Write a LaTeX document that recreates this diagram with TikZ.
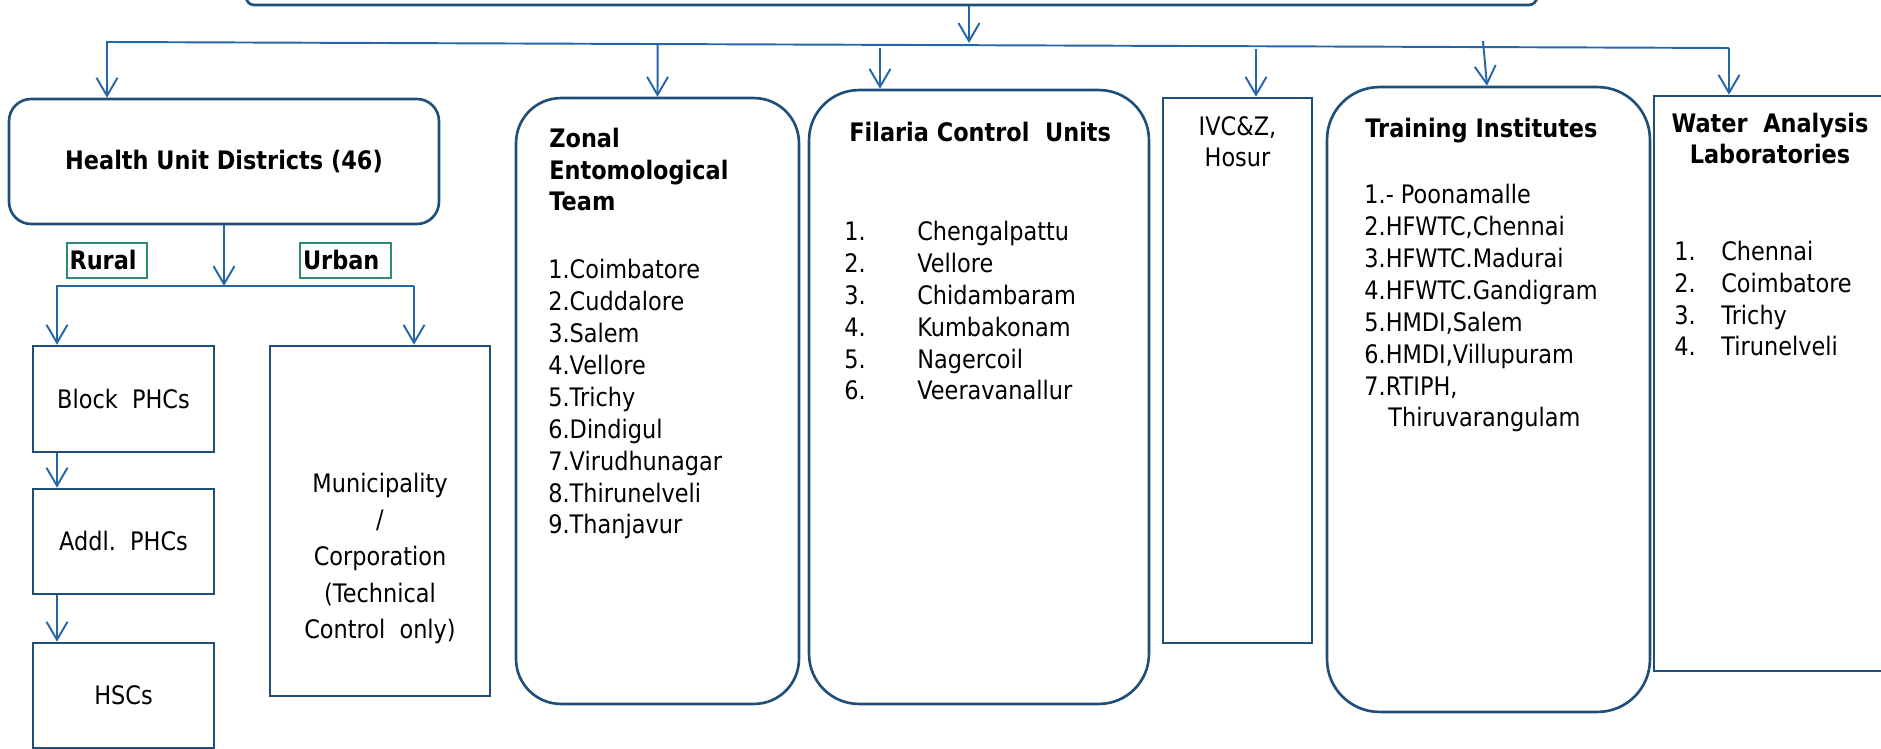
\documentclass[tikz,border=0pt]{standalone}
\usepackage{fontspec}
\setmainfont{DejaVu Sans}[FakeStretch=0.88]
\usepackage{tikz}
\usetikzlibrary{arrows.meta,calc}
\definecolor{boxNavy}{HTML}{1F4E79}
\definecolor{arrBlue}{HTML}{2566A8}
\definecolor{tagTeal}{HTML}{2E8B75}
\newcommand{\numcol}[2][1.46cm]{\makebox[#1][l]{#2}}

\begin{document}
\begin{tikzpicture}[x=0.02cm, y=-0.02cm,
  font=\fontsize{14.5}{18.2}\selectfont,
  box/.style={draw=boxNavy, line width=1.5pt, inner sep=0pt},
  rbox/.style={box, rounded corners=0.9cm},
  hdfont/.style={font=\fontsize{14.5}{18.2}\selectfont\bfseries},
  tag/.style={draw=tagTeal, line width=1.1pt, hdfont, align=left,
              inner ysep=0pt, minimum height=0.7cm},
  txt/.style={align=left, inner sep=0pt, anchor=base west},
  hd/.style={txt, hdfont},
  arr/.style={-{Straight Barb[length=0.36cm, width=0.42cm]}, arrBlue, line width=1.1pt}
]
\useasboundingbox (0,0) rectangle (1881,749);

\node[box, rounded corners=0.16cm, minimum width=25.82cm, minimum height=1.3cm] (top) at (891.5,-27.5) {};

\node[box, hdfont, rounded corners=0.44cm, minimum width=8.6cm, minimum height=2.5cm] (hud) at (224,161.5) {Health Unit Districts (46)};
\node[tag, text width=1.5cm, inner xsep=0.05cm] (rural) at (107,260.5) {Rural};
\node[tag, text width=1.7cm, inner xsep=0.06cm] (urban) at (345.5,260.5) {Urban};
\node[box, minimum width=3.62cm, minimum height=2.12cm] (block) at (123.5,399) {Block\ \ PHCs};
\node[box, minimum width=3.62cm, minimum height=2.1cm] (addl) at (123.5,541.5) {Addl.\ \ PHCs};
\node[box, minimum width=3.62cm, minimum height=2.1cm] (hsc) at (123.5,695.5) {HSCs};
\node[box, minimum width=4.4cm, minimum height=7cm] (muni) at (380,521) {};
\node[txt, align=center, anchor=base, font=\fontsize{14.5}{20.9}\selectfont] (munitxt) at (380,639)
  {Municipality\\/\\Corporation\\(Technical\\Control\ \ only)};

\node[rbox, minimum width=5.66cm, minimum height=12.12cm] (zonal) at (657.5,401) {};
\node[hd] (zonalhd) at (549,211) {Zonal\\Entomological\\Team};
\node[txt] (zonallist) at (548,534) {1.Coimbatore\\2.Cuddalore\\3.Salem\\4.Vellore\\5.Trichy\\6.Dindigul\\7.Virudhunagar\\8.Thirunelveli\\9.Thanjavur};

\node[rbox, rounded corners=1cm, minimum width=6.8cm, minimum height=12.28cm] (filaria) at (979,397) {};
\node[hd] (filariahd) at (849,142) {Filaria Control\ \ Units};
\node[txt] (filarialist) at (844,400) {\numcol{1.}Chengalpattu\\\numcol{2.}Vellore\\\numcol{3.}Chidambaram\\\numcol{4.}Kumbakonam\\\numcol{5.}Nagercoil\\\numcol{6.}Veeravanallur};

\node[box, minimum width=2.98cm, minimum height=10.9cm] (ivc) at (1237.5,370.5) {};
\node[txt, align=center, anchor=base] (ivctxt) at (1237.5,167) {IVC\&Z,\\Hosur};

\node[rbox, rounded corners=1.05cm, minimum width=6.46cm, minimum height=12.5cm] (train) at (1488.5,399.5) {};
\node[hd] (trainhd) at (1365,138) {Training Institutes};
\node[txt] (trainlist) at (1364,427) {1.- Poonamalle\\2.HFWTC,Chennai\\3.HFWTC.Madurai\\4.HFWTC.Gandigram\\5.HMDI,Salem\\6.HMDI,Villupuram\\7.RTIPH,\\\hspace*{0.48cm}Thiruvarangulam};

\node[box, minimum width=4.64cm, minimum height=11.5cm] (water) at (1770,383.5) {};
\node[hd, align=center, anchor=base] (waterhd) at (1770,164) {Water\ \ Analysis\\Laboratories};
\node[txt] (waterlist) at (1674,356) {\numcol[0.94cm]{1.}Chennai\\\numcol[0.94cm]{2.}Coimbatore\\\numcol[0.94cm]{3.}Trichy\\\numcol[0.94cm]{4.}Tirunelveli};

\coordinate (tdrop) at (969,43);
\coordinate (busL) at (107,42);
\coordinate (busR) at (1729,48);
\coordinate (fdrop) at (880,48);
\coordinate (idrop) at (1256,49);
\coordinate (trdrop) at (1483,41);
\draw[arr] (top.south -| tdrop) -- (tdrop);
\draw[arr] (busR) -- (busL) -- (busL |- hud.north);
\draw[arr] (busR) -- (busR |- water.north);
\draw[arr] ($(busL)!(zonal.north)!(busR)$) -- (zonal.north);
\draw[arr] (fdrop) -- (fdrop |- filaria.north);
\draw[arr] (idrop) -- (idrop |- ivc.north);
\draw[arr] (trdrop) -- ([xshift=-0.03cm]train.north);

\coordinate (subL) at (57,286);
\coordinate (subR) at (414,286);
\draw[arr] (hud.south) -- (hud.south |- subL);
\draw[arr] (subR) -- (subL) -- (subL |- block.north);
\draw[arr] (subR) -- (subR |- muni.north);
\draw[arr] (block.south -| subL) -- (addl.north -| subL);
\draw[arr] (addl.south -| subL) -- (hsc.north -| subL);
\end{tikzpicture}
\end{document}
